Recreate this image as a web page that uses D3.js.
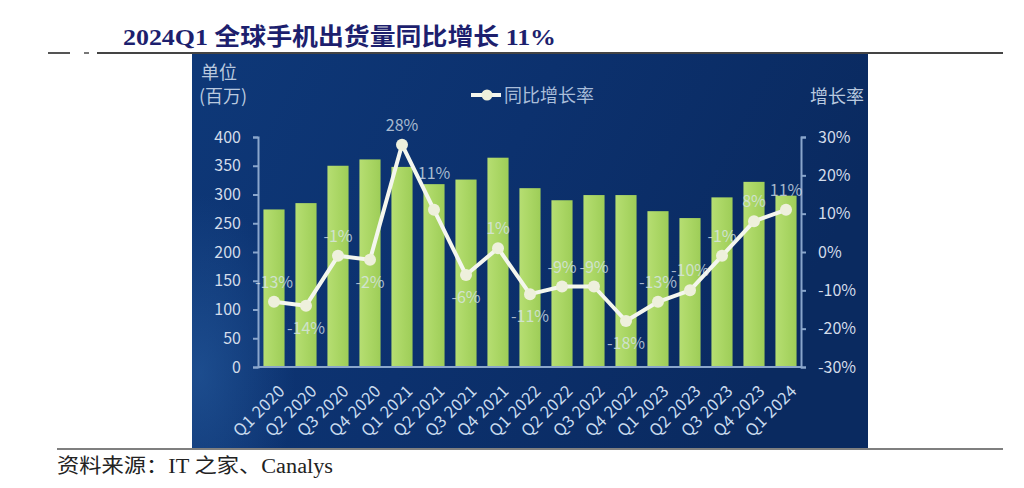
<!DOCTYPE html>
<html>
<head>
<meta charset="utf-8">
<script src="https://cdn.jsdelivr.net/npm/d3@7"></script>
<style>
  body { margin: 0; background: #fff; }
  svg { display: block; }
</style>
</head>
<body>
<div id="chart"></div>
<script>
// quarterly data
const quarters = ["Q1 2020", "Q2 2020", "Q3 2020", "Q4 2020", "Q1 2021", "Q2 2021", "Q3 2021", "Q4 2021",
                  "Q1 2022", "Q2 2022", "Q3 2022", "Q4 2022", "Q1 2023", "Q2 2023", "Q3 2023", "Q4 2023", "Q1 2024"];
const shipments = [274, 285, 350, 361, 348, 318, 326, 364, 311, 290, 299, 299, 271, 259, 295, 322, 298];
const yoyGrowth = [-13, -14, -1, -2, 28, 11, -6, 1, -11, -9, -9, -18, -13, -10, -1, 8, 11];
const labelSide = ["a", "b", "a", "b", "a", "h", "b", "a", "b", "a", "a", "b", "a", "a", "a", "a", "a"];
const leftTicks = [0, 50, 100, 150, 200, 250, 300, 350, 400];
const rightTicks = [-30, -20, -10, 0, 10, 20, 30];

const W = 1024, H = 488;
const cjk = '"Noto Sans CJK SC", "Noto Sans", sans-serif';
const serif = '"Liberation Serif", "Noto Sans CJK SC", serif';

const svg = d3.select('#chart').append('svg')
    .attr('width', W)
    .attr('height', H);

const defs = svg.append('defs');

const bg = defs.append('linearGradient')
    .attr('id', 'bg')
    .attr('x1', 0).attr('y1', 0).attr('x2', 1).attr('y2', 0.3);
bg.append('stop').attr('offset', 0).attr('stop-color', '#0e3878');
bg.append('stop').attr('offset', 0.5).attr('stop-color', '#0c316e');
bg.append('stop').attr('offset', 1).attr('stop-color', '#0a2a60');

const sheen = defs.append('radialGradient')
    .attr('id', 'sheen')
    .attr('cx', 0.05).attr('cy', 0.75).attr('r', 0.6);
sheen.append('stop').attr('offset', 0).attr('stop-color', '#2c64a8').attr('stop-opacity', 0.5);
sheen.append('stop').attr('offset', 1).attr('stop-color', '#2c64a8').attr('stop-opacity', 0);

const barGrad = defs.append('linearGradient')
    .attr('id', 'bar')
    .attr('x1', 0).attr('y1', 0).attr('x2', 1).attr('y2', 0);
barGrad.append('stop').attr('offset', 0).attr('stop-color', '#b6de72');
barGrad.append('stop').attr('offset', 0.5).attr('stop-color', '#aad664');
barGrad.append('stop').attr('offset', 1).attr('stop-color', '#9ecd58');

// page title and rules
svg.append('text')
    .attr('x', 123)
    .attr('y', 45)
    .attr('font-family', serif)
    .attr('font-weight', 'bold')
    .attr('font-size', 24)
    .attr('fill', '#1d1f6e')
    .attr('textLength', 433)
    .attr('lengthAdjust', 'spacingAndGlyphs')
    .text('2024Q1 全球手机出货量同比增长 11%');

svg.append('line').attr('x1', 48).attr('x2', 70).attr('y1', 53).attr('y2', 53)
    .attr('stroke', '#555').attr('stroke-width', 2);
svg.append('line').attr('x1', 84).attr('x2', 89).attr('y1', 53).attr('y2', 53)
    .attr('stroke', '#777').attr('stroke-width', 2);
svg.append('line').attr('x1', 97).attr('x2', 1003).attr('y1', 53).attr('y2', 53)
    .attr('stroke', '#444').attr('stroke-width', 2);

// chart panel
svg.append('rect')
    .attr('x', 192).attr('y', 54).attr('width', 676).attr('height', 394)
    .attr('fill', 'url(#bg)');
svg.append('path')
    .attr('d', 'M192,150 C260,170 330,260 350,448 L192,448 Z')
    .attr('fill', 'url(#sheen)');

svg.append('line').attr('x1', 57).attr('x2', 1003).attr('y1', 449).attr('y2', 449)
    .attr('stroke', '#555').attr('stroke-width', 1.5);

svg.append('text')
    .attr('x', 57)
    .attr('y', 473)
    .attr('font-family', serif)
    .attr('font-size', 20)
    .attr('fill', '#222')
    .attr('textLength', 276)
    .attr('lengthAdjust', 'spacingAndGlyphs')
    .text('资料来源：IT 之家、Canalys');

// scales
const x = d3.scaleBand()
    .domain(quarters)
    .range([258, 802])
    .paddingInner(0.34)
    .paddingOuter(0.17);

const y = d3.scaleLinear().domain([0, 400]).range([367, 137]);
const y2 = d3.scaleLinear().domain([-30, 30]).range([367, 137]);

const axisColor = '#8aa6cc';
const tickText = '#d3dcea';

// bars
svg.append('g')
    .selectAll('rect')
    .data(shipments)
    .join('rect')
    .attr('x', (d, i) => x(quarters[i]))
    .attr('y', d => y(d))
    .attr('width', x.bandwidth())
    .attr('height', d => y(0) - y(d))
    .attr('fill', 'url(#bar)');

// axes
const gl = svg.append('g')
    .attr('transform', 'translate(258,0)')
    .call(d3.axisLeft(y).tickValues(leftTicks).tickSize(5).tickPadding(12));
const gr = svg.append('g')
    .attr('transform', 'translate(801,0)')
    .call(d3.axisRight(y2).tickValues(rightTicks).tickFormat(d => d + '%').tickSize(5).tickPadding(12));
const gb = svg.append('g')
    .attr('transform', 'translate(0,367)')
    .call(d3.axisBottom(x).tickSize(0).tickPadding(0));

[gl, gr, gb].forEach(g => {
    g.select('.domain').attr('stroke', axisColor).attr('stroke-width', 2);
    g.selectAll('.tick line').attr('stroke', axisColor).attr('stroke-width', 2);
    g.selectAll('text')
        .attr('font-family', cjk)
        .attr('font-size', 16)
        .attr('fill', tickText);
});

gb.select('.domain').attr('d', 'M258,0H801');
gb.selectAll('text')
    .attr('text-anchor', 'end')
    .attr('font-size', 16.5)
    .attr('letter-spacing', 0.4)
    .attr('fill', '#c9dbee')
    .attr('transform', 'translate(12,25) rotate(-45)')
    .attr('dy', 0)
    .attr('y', 0);

// growth line
const cx = i => x(quarters[i]) + x.bandwidth() / 2;
const line = d3.line()
    .x((d, i) => cx(i))
    .y(d => y2(d));

svg.append('path')
    .datum(yoyGrowth)
    .attr('d', line)
    .attr('fill', 'none')
    .attr('stroke', '#f4f6ee')
    .attr('stroke-width', 4)
    .attr('stroke-linejoin', 'round');

svg.append('g')
    .selectAll('circle')
    .data(yoyGrowth)
    .join('circle')
    .attr('cx', (d, i) => cx(i))
    .attr('cy', d => y2(d))
    .attr('r', 6)
    .attr('fill', '#eef0dc');

const sideDy = { a: -14, b: 28, h: -31 };
svg.append('g')
    .selectAll('text')
    .data(yoyGrowth)
    .join('text')
    .attr('x', (d, i) => cx(i))
    .attr('y', (d, i) => y2(d) + sideDy[labelSide[i]])
    .attr('text-anchor', 'middle')
    .attr('font-family', cjk)
    .attr('font-size', 16)
    .attr('fill', '#dde6f0')
    .attr('fill-opacity', 0.75)
    .text(d => d + '%');

// unit captions and legend
const caption = (tx, ty, t, anchor) => svg.append('text')
    .attr('x', tx).attr('y', ty)
    .attr('text-anchor', anchor || 'start')
    .attr('font-family', cjk)
    .attr('font-size', 18)
    .attr('fill', '#b9c9df')
    .text(t);

caption(201, 79, '单位');
caption(199, 103, '(百万)');
caption(864, 103, '增长率', 'end');

svg.append('line').attr('x1', 471).attr('x2', 501).attr('y1', 95).attr('y2', 95)
    .attr('stroke', '#f4f6ee').attr('stroke-width', 4);
svg.append('circle').attr('cx', 487).attr('cy', 95).attr('r', 5.5).attr('fill', '#eef0dc');
caption(504, 102, '同比增长率').attr('fill', '#a9bdd9');
</script>
</body>
</html>
